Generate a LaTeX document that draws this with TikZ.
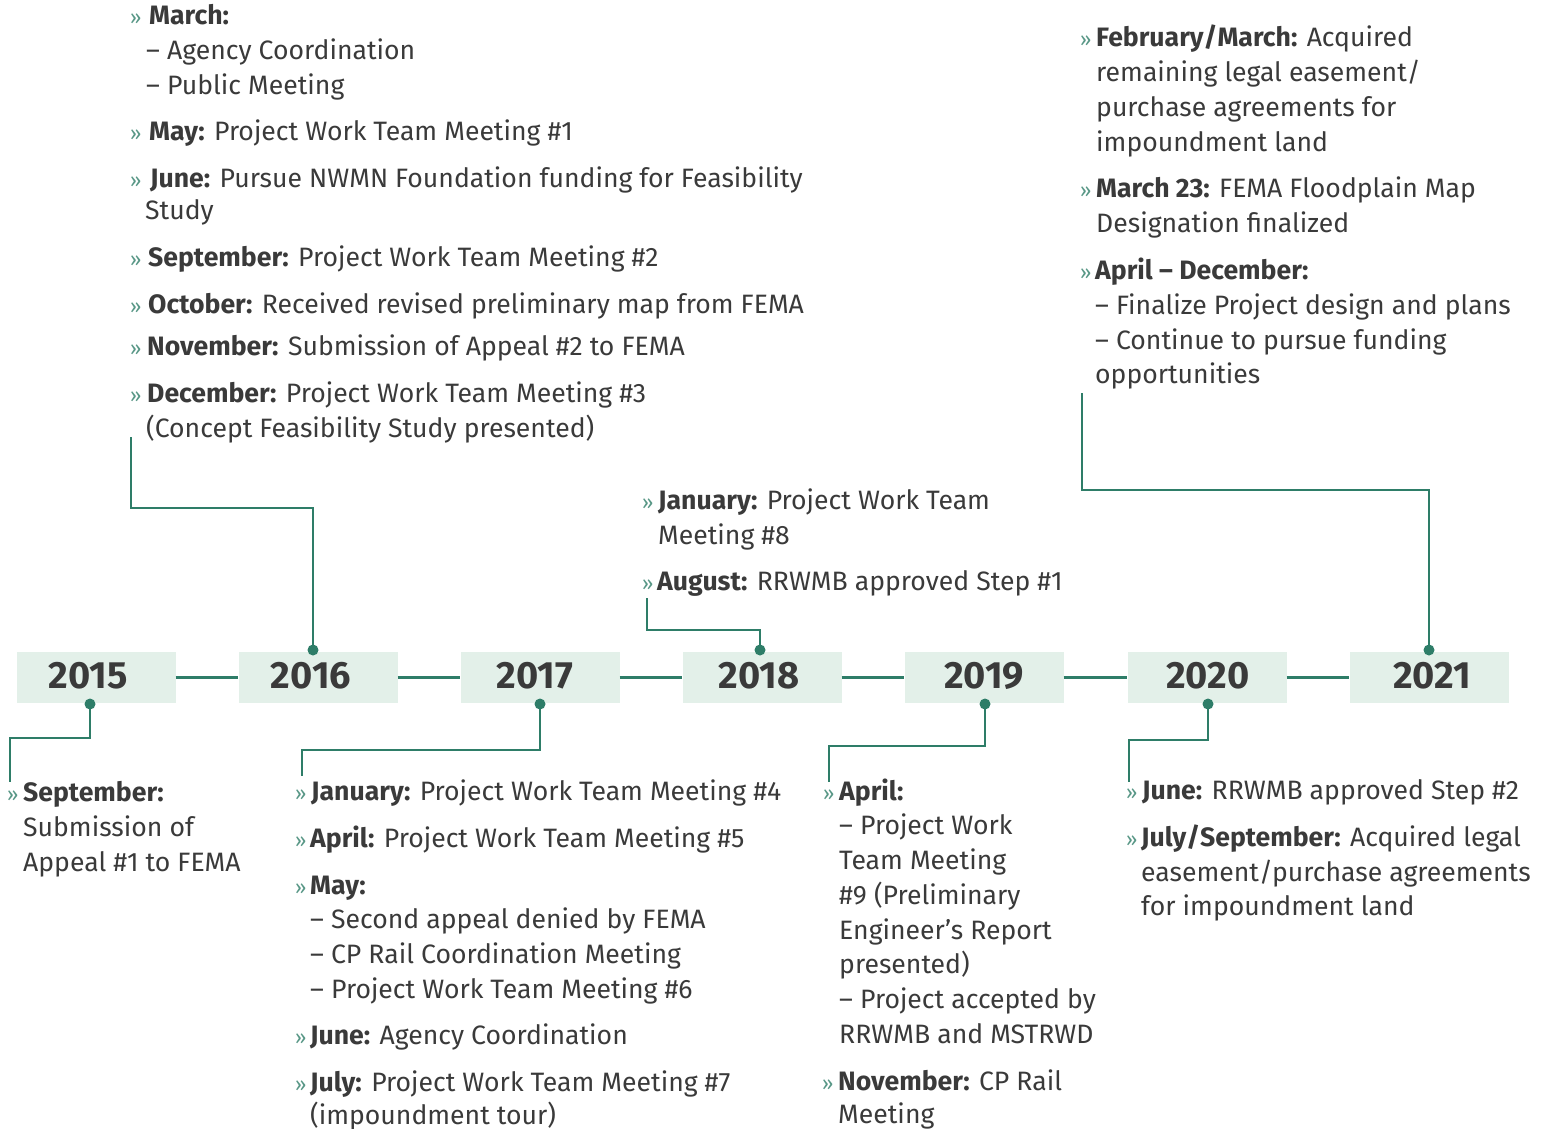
\documentclass[tikz,border=0pt]{standalone}
\usepackage{fontspec}
\setmainfont{Fira Sans}
\definecolor{tgray}{HTML}{3A3A3A}
\definecolor{tgreen}{HTML}{2E7D68}
\definecolor{boxfill}{HTML}{E3F0E9}
\newcommand{\reg}{\fontsize{26.6}{30}\selectfont}
\newcommand{\yr}{\fontsize{38}{40}\selectfont\bfseries}
\newcommand{\lb}[1]{\textbf{#1}}
\begin{document}
\begin{tikzpicture}[x=1pt,y=-1pt,
  ln/.style={anchor=base west, inner sep=0pt, font=\reg, text=tgray},
  chev/.style={anchor=base west, inner sep=0pt, font=\fontsize{20}{20}\selectfont, text=tgreen!80},
  yearbox/.style={fill=boxfill, minimum width=159pt, minimum height=51pt, inner sep=0pt, draw=none},
  yearlbl/.style={font=\yr, text=tgray, inner sep=0pt},
  dot/.style={circle, fill=tgreen, minimum size=11pt, inner sep=0pt},
  conn/.style={draw=tgreen, line width=2.2pt},
  bar/.style={draw=tgreen, line width=2.2pt}]
\useasboundingbox (0,0) rectangle (1543,1128);
\fill[white] (0,0) rectangle (1543,1128);

% year boxes
\node[yearbox] (b2015) at (96,677.5) {};
\node[yearbox] (b2016) at (318,677.5) {};
\node[yearbox] (b2017) at (540,677.5) {};
\node[yearbox] (b2018) at (762,677.5) {};
\node[yearbox] (b2019) at (984,677.5) {};
\node[yearbox] (b2020) at (1207,677.5) {};
\node[yearbox] (b2021) at (1429,677.5) {};
\node[yearlbl] (y2015) at (88,676) {2015};
\node[yearlbl] (y2016) at (311,676) {2016};
\node[yearlbl] (y2017) at (535,676) {2017};
\node[yearlbl] (y2018) at (759,676) {2018};
\node[yearlbl] (y2019) at (984,676) {2019};
\node[yearlbl] (y2020) at (1208,676) {2020};
\node[yearlbl] (y2021) at (1432,676) {2021};
\draw[bar] (b2015.east) -- (b2016.west);
\draw[bar] (b2016.east) -- (b2017.west);
\draw[bar] (b2017.east) -- (b2018.west);
\draw[bar] (b2018.east) -- (b2019.west);
\draw[bar] (b2019.east) -- (b2020.west);
\draw[bar] (b2020.east) -- (b2021.west);

% dots
\node[dot] (d2015) at (90,704) {};
\node[dot] (d2016) at (313,650) {};
\node[dot] (d2017) at (540,704) {};
\node[dot] (d2018) at (760,650) {};
\node[dot] (d2019) at (985,704) {};
\node[dot] (d2020) at (1208,704) {};
\node[dot] (d2021) at (1429,650) {};

% connector ends
\coordinate (e2015) at (10,782);
\coordinate (e2016) at (131,437);
\coordinate (e2017) at (302,776);
\coordinate (e2018) at (647,598);
\coordinate (e2019) at (829,782);
\coordinate (e2020) at (1129,782);
\coordinate (e2021) at (1082,393);
\draw[conn] (d2015.center) |- (10,738) -- (e2015);
\draw[conn] (d2016.center) |- (131,508) -- (e2016);
\draw[conn] (d2017.center) |- (302,750) -- (e2017);
\draw[conn] (d2018.center) |- (647,630) -- (e2018);
\draw[conn] (d2019.center) |- (829,746) -- (e2019);
\draw[conn] (d2020.center) |- (1129,740) -- (e2020);
\draw[conn] (d2021.center) |- (1082,490) -- (e2021);

% ---- 2016 block (top left)
\node[chev] (c16a) at (130,24) {»};
\node[ln] (t16a) at (149,24) {\lb{March:}};
\node[ln] (t16b) at (146,59) {– Agency Coordination};
\node[ln] (t16c) at (146,94) {– Public Meeting};
\node[chev] (c16d) at (130,140) {»};
\node[ln] (t16d) at (149,140) {\lb{May:} Project Work Team Meeting \#1};
\node[chev] (c16e) at (130,187) {»};
\node[ln] (t16e) at (150,187) {\lb{June:} Pursue NWMN Foundation funding for Feasibility};
\node[ln] (t16f) at (145,219) {Study};
\node[chev] (c16g) at (130,266) {»};
\node[ln] (t16g) at (148,266) {\lb{September:} Project Work Team Meeting \#2};
\node[chev] (c16h) at (130,313) {»};
\node[ln] (t16h) at (148,313) {\lb{October:} Received revised preliminary map from FEMA};
\node[chev] (c16i) at (130,355) {»};
\node[ln] (t16i) at (147,355) {\lb{November:} Submission of Appeal \#2 to FEMA};
\node[chev] (c16j) at (130,402) {»};
\node[ln] (t16j) at (147,402) {\lb{December:} Project Work Team Meeting \#3};
\node[ln] (t16k) at (146,437) {(Concept Feasibility Study presented)};

% ---- 2018 block
\node[chev] (c18a) at (642,509) {»};
\node[ln] (t18a) at (658,509) {\lb{January:} Project Work Team};
\node[ln] (t18b) at (658,544) {Meeting \#8};
\node[chev] (c18c) at (642,590) {»};
\node[ln] (t18c) at (657,590) {\lb{August:} RRWMB approved Step \#1};

% ---- 2021 block
\node[chev] (c21a) at (1080,46) {»};
\node[ln] (t21a) at (1096,46) {\lb{February/March:} Acquired};
\node[ln] (t21b) at (1096,81) {remaining legal easement/};
\node[ln] (t21c) at (1096,116) {purchase agreements for};
\node[ln] (t21d) at (1096,151) {impoundment land};
\node[chev] (c21e) at (1080,197) {»};
\node[ln] (t21e) at (1096,197) {\lb{March 23:} FEMA Floodplain Map};
\node[ln] (t21f) at (1096,232) {Designation finalized};
\node[chev] (c21g) at (1080,279) {»};
\node[ln] (t21g) at (1095,279) {\lb{April – December:}};
\node[ln] (t21h) at (1095,314) {– Finalize Project design and plans};
\node[ln] (t21i) at (1095,349) {– Continue to pursue funding};
\node[ln] (t21j) at (1095,383) {opportunities};

% ---- 2015 block
\node[chev] (c15a) at (7,801) {»};
\node[ln] (t15a) at (23,801) {\lb{September:}};
\node[ln] (t15b) at (23,836) {Submission of};
\node[ln] (t15c) at (23,871) {Appeal \#1 to FEMA};

% ---- 2017 block
\node[chev] (c17a) at (295,800) {»};
\node[ln] (t17a) at (311,800) {\lb{January:} Project Work Team Meeting \#4};
\node[chev] (c17b) at (295,847) {»};
\node[ln] (t17b) at (310,847) {\lb{April:} Project Work Team Meeting \#5};
\node[chev] (c17c) at (295,894) {»};
\node[ln] (t17c) at (310,894) {\lb{May:}};
\node[ln] (t17d) at (310,928) {– Second appeal denied by FEMA};
\node[ln] (t17e) at (310,963) {– CP Rail Coordination Meeting};
\node[ln] (t17f) at (310,998) {– Project Work Team Meeting \#6};
\node[chev] (c17g) at (295,1044) {»};
\node[ln] (t17g) at (310,1044) {\lb{June:} Agency Coordination};
\node[chev] (c17h) at (295,1091) {»};
\node[ln] (t17h) at (310,1091) {\lb{July:} Project Work Team Meeting \#7};
\node[ln] (t17i) at (310,1124) {(impoundment tour)};

% ---- 2019 block
\node[chev] (c19a) at (823,800) {»};
\node[ln] (t19a) at (839,800) {\lb{April:}};
\node[ln] (t19b) at (839,834) {– Project Work};
\node[ln] (t19c) at (839,869) {Team Meeting};
\node[ln] (t19d) at (839,904) {\#9 (Preliminary};
\node[ln] (t19e) at (839,939) {Engineer’s Report};
\node[ln] (t19f) at (839,973) {presented)};
\node[ln] (t19g) at (839,1008) {– Project accepted by};
\node[ln] (t19h) at (839,1043) {RRWMB and MSTRWD};
\node[chev] (c19i) at (822,1090) {»};
\node[ln] (t19i) at (838,1090) {\lb{November:} CP Rail};
\node[ln] (t19j) at (838,1123) {Meeting};

% ---- 2020 block
\node[chev] (c20a) at (1126,799) {»};
\node[ln] (t20a) at (1142,799) {\lb{June:} RRWMB approved Step \#2};
\node[chev] (c20b) at (1126,846) {»};
\node[ln] (t20b) at (1141,846) {\lb{July/September:} Acquired legal};
\node[ln] (t20c) at (1141,881) {easement/purchase agreements};
\node[ln] (t20d) at (1141,915) {for impoundment land};
\end{tikzpicture}
\end{document}
